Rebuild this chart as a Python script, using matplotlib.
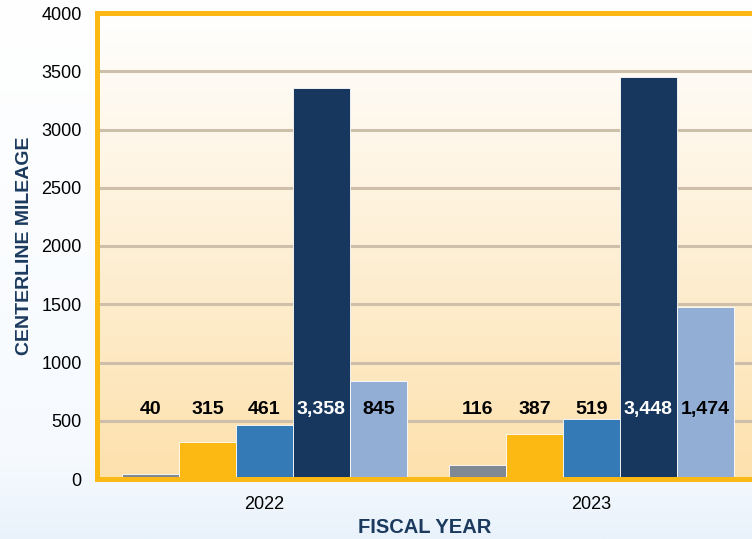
import matplotlib
matplotlib.use('Agg')
import matplotlib.pyplot as plt
import numpy as np
from matplotlib.colors import LinearSegmentedColormap

# Data
years = ['2022', '2023']
series_values = [
    [40, 116],
    [315, 387],
    [461, 519],
    [3358, 3448],
    [845, 1474],
]
bar_colors = ['#7F8893', '#FDB913', '#347AB6', '#17375E', '#92AED5']
label_colors = ['black', 'black', 'black', 'white', 'black']
y_ticks = [0, 500, 1000, 1500, 2000, 2500, 3000, 3500, 4000]

regular = ['Liberation Sans', 'DejaVu Sans']
navy = '#1B3A5E'
orange = '#FDB913'

fig = plt.figure(figsize=(7.52, 5.39), dpi=100)

# figure background: white with a faint blue wash towards the bottom
bg = fig.add_axes([0, 0, 1, 1], zorder=-5)
bg_cmap = LinearSegmentedColormap.from_list(
    'bg', [(0, '#E9F2FB'), (0.15, '#F6FAFE'), (1, '#FFFFFF')])
bg.imshow(np.linspace(0, 1, 256).reshape(-1, 1), cmap=bg_cmap,
          aspect='auto', extent=[0, 1, 0, 1], origin='lower')
bg.axis('off')

ax = fig.add_axes([97 / 752, 1 - 479 / 539, (752 - 97) / 752, (479 - 13) / 539])
ax.patch.set_visible(False)

# plot area gradient: white at top, light orange at bottom
ax_cmap = LinearSegmentedColormap.from_list('ax', ['#FDE1AD', '#FFFFFF'])
ax.imshow(np.linspace(0, 1, 256).reshape(-1, 1), cmap=ax_cmap, aspect='auto',
          extent=[0, 1, 0, 1], origin='lower', transform=ax.transAxes, zorder=-1)

x = np.arange(len(years))
w = 0.1743
for i, vals in enumerate(series_values):
    pos = x + (i - 2) * w
    ax.bar(pos, vals, width=w, color=bar_colors[i], zorder=2,
           edgecolor='white', linewidth=0.6)
    for p, v in zip(pos, vals):
        ax.text(p, 600, f'{v:,}', ha='center', va='center', fontsize=14,
                fontweight='bold', color=label_colors[i], family=regular, zorder=3)

ax.set_xlim(-0.512, 1.491)
ax.set_ylim(0, 4000)
ax.set_xticks(x)
ax.set_xticklabels(years, family=regular, fontsize=13)
ax.set_yticks(y_ticks)
ax.set_yticklabels([str(t) for t in y_ticks], family=regular, fontsize=13)
ax.tick_params(length=0)
ax.tick_params(axis='y', pad=11)
ax.tick_params(axis='x', pad=12)

ax.set_axisbelow(True)
ax.yaxis.grid(True, color='#CDBFAA', linewidth=2.2)

for side in ['left', 'top', 'bottom']:
    ax.spines[side].set_color(orange)
    ax.spines[side].set_linewidth(3.6)
ax.spines['right'].set_visible(False)

ax.set_ylabel('CENTERLINE MILEAGE', family=regular, fontweight='bold',
              fontsize=14, color=navy, labelpad=6)
ax.set_xlabel('FISCAL YEAR', family=regular, fontweight='bold',
              fontsize=14.5, color=navy, labelpad=4)

fig.savefig('out.png', dpi=100)
